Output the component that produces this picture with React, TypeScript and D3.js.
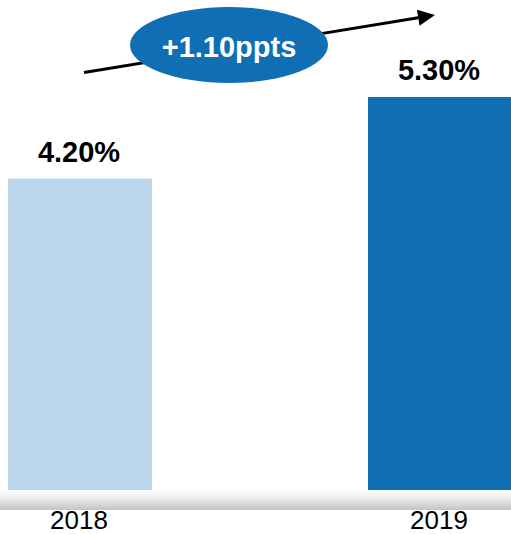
import React from "react";
import * as d3 from "d3";

const categories: string[] = ["2018", "2019"];
const values: number[] = [4.2, 5.3];
const valueLabels: string[] = ["4.20%", "5.30%"];
const changeLabel = "+1.10ppts";
const barColors: string[] = ["#BBD5EA", "#106EB4"];

const W = 511;
const H = 534;

export default function App() {
  const x = d3.scaleBand<string>().domain(categories).range([8, 512]).paddingInner(0.6).paddingOuter(0);
  const y = d3.scaleLinear().domain([0, 5.3]).range([490, 97]);
  const font = "'Liberation Sans', Arial, sans-serif";
  const arrowStart: [number, number] = [84, 72.5];
  const arrowEnd: [number, number] = [435, 15];
  const dx = arrowEnd[0] - arrowStart[0];
  const dy = arrowEnd[1] - arrowStart[1];
  const len = Math.sqrt(dx * dx + dy * dy);
  const ux = dx / len, uy = dy / len;
  const headLen = 17, headHalf = 8;
  const bx = arrowEnd[0] - ux * headLen, by = arrowEnd[1] - uy * headLen;
  const head = [
    [arrowEnd[0], arrowEnd[1]],
    [bx - uy * headHalf, by + ux * headHalf],
    [bx + uy * headHalf, by - ux * headHalf],
  ];
  const line = d3.line();
  return (
    <svg width={W} height={H} style={{ position: "absolute", left: 0, top: 0, background: "#fff" }}>
      <defs>
        <linearGradient id="band" x1="0" y1="0" x2="0" y2="1">
          <stop offset="0%" stopColor="#ffffff" />
          <stop offset="40%" stopColor="#ececec" />
          <stop offset="100%" stopColor="#c4c4c4" />
        </linearGradient>
      </defs>
      <rect x={0} y={490} width={W} height={20} fill="url(#band)" />
      {categories.map((c, i) => (
        <g key={c}>
          <rect x={x(c)} y={y(values[i])} width={x.bandwidth()} height={y(0) - y(values[i])} fill={barColors[i]} />
          <text
            x={(x(c) as number) + x.bandwidth() / 2 - 1}
            y={y(values[i]) - 17}
            textAnchor="middle"
            fontFamily={font}
            fontWeight="bold"
            fontSize={29}
            fill="#000"
          >
            {valueLabels[i]}
          </text>
          <text
            x={(x(c) as number) + x.bandwidth() / 2 - 1}
            y={528.5}
            textAnchor="middle"
            fontFamily={font}
            fontSize={26}
            fill="#000"
          >
            {c}
          </text>
        </g>
      ))}
      <path d={line([arrowStart, [bx, by]]) as string} stroke="#000" strokeWidth={2.8} fill="none" />
      <path d={line(head as [number, number][]) + "Z"} fill="#000" />
      <ellipse cx={229} cy={45} rx={99} ry={38} fill="#106EB4" />
      <text x={229} y={57} textAnchor="middle" fontFamily={font} fontWeight="bold" fontSize={29} fill="#fff">
        {changeLabel}
      </text>
    </svg>
  );
}
